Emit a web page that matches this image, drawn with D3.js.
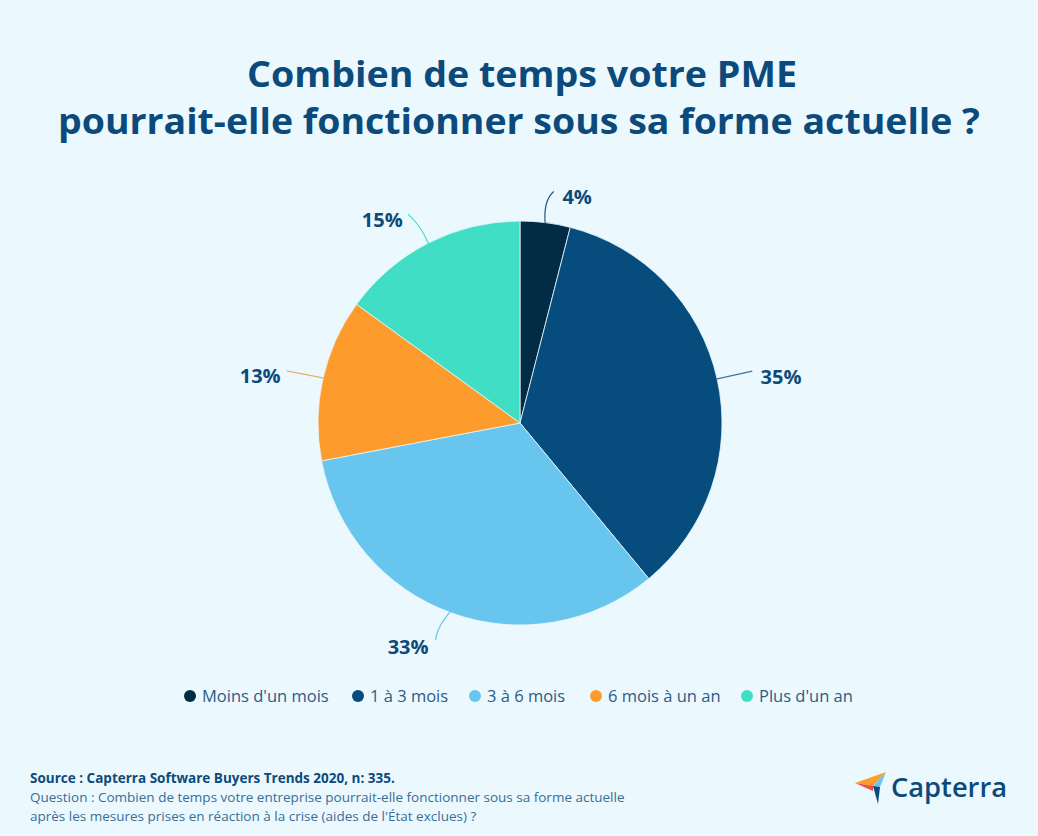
<!DOCTYPE html>
<html><head><meta charset="utf-8">
<script src="https://cdn.jsdelivr.net/npm/d3@7"></script>
<style>html,body{margin:0;padding:0;background:#ebf8fd;}svg{display:block;}</style>
</head><body>
<svg id="chart" width="1038" height="836"></svg>
<script>
const categories = ["Moins d'un mois", "1 à 3 mois", "3 à 6 mois", "6 mois à un an", "Plus d'un an"];
const values = [4, 35, 33, 13, 15];
const colors = ["#022c46", "#064c7c", "#68c5ee", "#fd9c2d", "#3fdec5"];
const titleLines = ["Combien de temps votre PME", "pourrait-elle fonctionner sous sa forme actuelle ?"];
const sourceText = "Source : Capterra Software Buyers Trends 2020, n: 335.";
const questionLines = ["Question : Combien de temps votre entreprise pourrait-elle fonctionner sous sa forme actuelle",
  "après les mesures prises en réaction à la crise (aides de l'État exclues) ?"];

const svg = d3.select("#chart");
const W = 1038, H = 836;
svg.append("rect").attr("width", W).attr("height", H).attr("fill", "#ebf8fd");

const navy = "#0c4a7c";
// Title
const titleG = svg.append("g").attr("font-family", "'Open Sans', sans-serif").attr("font-weight", 700)
  .attr("fill", navy).attr("font-size", 35).attr("text-anchor", "middle");
const titleWidths = [550, 922];
const titleX = [522, 519];
const titleY = [87, 134];
titleLines.forEach((t, i) => {
  titleG.append("text").attr("x", titleX[i]).attr("y", titleY[i])
    .attr("textLength", titleWidths[i]).attr("lengthAdjust", "spacingAndGlyphs").text(t);
});

// Pie
const cx = 520, cy = 423, R = 202;
const pie = d3.pie().sort(null).value(d => d)(values);
const arc = d3.arc().innerRadius(0).outerRadius(R);
const g = svg.append("g").attr("transform", `translate(${cx},${cy})`);
g.selectAll("path.slice").data(pie).join("path").attr("class", "slice")
  .attr("d", arc).attr("fill", (d, i) => colors[i])
  .attr("stroke", "#ebf8fd").attr("stroke-width", 0.8);

// leader lines and labels (angle offsets in degrees from each slice's mid-angle)
const labelR = [233, 265, 250, 264, 245];
const labelShift = [7, 2.6, 6.8, -2.4, -7.2];
const lineStartShift = [0, 0, 0.5, 0.3, 0];
const lineEndShift = [1.1, 0, 1.4, 0, -1.2];
const lineEndR = [234, 238, 233, 239, 237];
const lineBend = [6, 0, -5, 0, -3];
const pt = (a, r) => [Math.sin(a) * r, -Math.cos(a) * r];
const deg = Math.PI / 180;
const lineColors = ["#1f5a86", "#3f74a0", "#68c5ee", "#e9b06a", "#3fdec5"];
pie.forEach((d, i) => {
  const mid = (d.startAngle + d.endAngle) / 2;
  const a0 = mid + lineStartShift[i] * deg, a2 = mid + lineEndShift[i] * deg;
  const p0 = pt(a0, R - 1);
  const p2 = pt(a2, lineEndR[i]);
  const pc = pt((a0 + a2) / 2 - lineBend[i] * deg * 0.3, (R + lineEndR[i]) / 2 + Math.abs(lineBend[i]));
  g.append("path").attr("d", `M${p0[0]},${p0[1]} Q${pc[0]},${pc[1]} ${p2[0]},${p2[1]}`)
    .attr("fill", "none").attr("stroke", lineColors[i]).attr("stroke-width", 1.2);
  const pl = pt(mid + labelShift[i] * deg, labelR[i]);
  g.append("text").attr("x", pl[0]).attr("y", pl[1]).attr("dy", "0.35em")
    .attr("text-anchor", "middle").attr("font-family", "'Open Sans', sans-serif")
    .attr("font-weight", 700).attr("font-size", 20).attr("fill", navy)
    .text(values[i] + "%");
});

// Legend
const legendX = [190, 358, 475, 596, 747];
const legG = svg.append("g").attr("font-family", "'Open Sans', sans-serif").attr("font-size", 16.5).attr("fill", "#2b5c86");
categories.forEach((c, i) => {
  legG.append("circle").attr("cx", legendX[i]).attr("cy", 696).attr("r", 6).attr("fill", colors[i]);
  legG.append("text").attr("x", legendX[i] + 12).attr("y", 701.5).text(c);
});

// Footer
const foot = svg.append("g").attr("font-family", "'Open Sans', sans-serif").attr("font-size", 13.5);
foot.append("text").attr("x", 30).attr("y", 783).attr("font-weight", 700).attr("fill", navy).text(sourceText);
questionLines.forEach((q, i) => {
  foot.append("text").attr("x", 30).attr("y", 802 + i * 19).attr("fill", "#3a6d98").text(q);
});

// Capterra logo
const logo = svg.append("g");
logo.append("polygon").attr("points", "855,783 886,772 873,786").attr("fill", "#ff9d28");
logo.append("polygon").attr("points", "855,783 873,786 873,791").attr("fill", "#ef4c4c");
logo.append("polygon").attr("points", "886,772 873,786 880,787").attr("fill", "#68c5ee");
logo.append("polygon").attr("points", "873,786 880,787 878,804").attr("fill", "#0c4a7c");
logo.append("text").attr("x", 891).attr("y", 797).attr("font-family", "'Open Sans', sans-serif")
  .attr("font-weight", 600).attr("font-size", 27).attr("fill", navy)
  .attr("textLength", 116).attr("lengthAdjust", "spacingAndGlyphs").text("Capterra");
</script>
</body></html>
